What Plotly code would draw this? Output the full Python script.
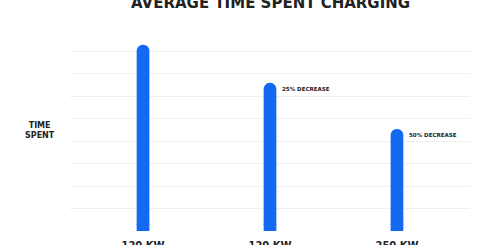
import plotly.graph_objects as go

categories = ["120 KW", "120 KW", "250 KW"]
values = [8.3, 6.6, 4.55]
notes = ["", "25% DECREASE", "50% DECREASE"]
title_text = "AVERAGE TIME SPENT CHARGING"
ylabel_text = "TIME<br>SPENT"

x = list(range(len(categories)))
BLUE = "#1469f2"
TXT = "#222222"
FONT = "DejaVu Sans"

fig = go.Figure()
fig.add_trace(go.Bar(
    x=x, y=values, width=0.1,
    marker=dict(color=BLUE, cornerradius="50%", line=dict(width=0)),
    hoverinfo="skip",
))
# rounded bottoms
fig.add_trace(go.Scatter(
    x=x, y=[0.3] * len(x), mode="markers",
    marker=dict(color=BLUE, size=12.5, line=dict(width=0)),
    hoverinfo="skip",
))

for xi, v, n in zip(x, values, notes):
    if n:
        fig.add_annotation(x=xi, y=v, text=f"<b>{n}</b>", showarrow=False,
                           xanchor="left", yanchor="middle", xshift=10, yshift=-6,
                           font=dict(family=FONT, size=5.5, color=TXT))

fig.add_annotation(xref="paper", yref="paper", x=0.5, y=1, text=f"<b>{title_text}</b>",
                   showarrow=False, xanchor="center", yanchor="bottom", yshift=15,
                   font=dict(family=FONT, size=15, color=TXT))
fig.add_annotation(xref="paper", yref="paper", x=-0.0, y=0.5, text=f"<b>{ylabel_text}</b>",
                   showarrow=False, xanchor="center", yanchor="middle", xshift=-30,
                   font=dict(family=FONT, size=8, color=TXT))

fig.update_layout(
    width=495, height=245,
    margin=dict(l=70, r=25, t=29, b=14),
    paper_bgcolor="white", plot_bgcolor="white",
    showlegend=False,
    xaxis=dict(range=[-0.575, 2.575], tickmode="array", tickvals=x,
               ticktext=[f"<b>{c}</b>" for c in categories],
               showgrid=False, zeroline=False, showline=False, automargin=False,
               ticks="outside", ticklen=5, tickcolor="white",
               tickfont=dict(family=FONT, size=10, color=TXT)),
    yaxis=dict(range=[0, 9], dtick=1, showgrid=True, gridcolor="#efefef",
               gridwidth=1, zeroline=False, showline=False, showticklabels=False,
               automargin=False),
)
fig.write_html("out.html")
